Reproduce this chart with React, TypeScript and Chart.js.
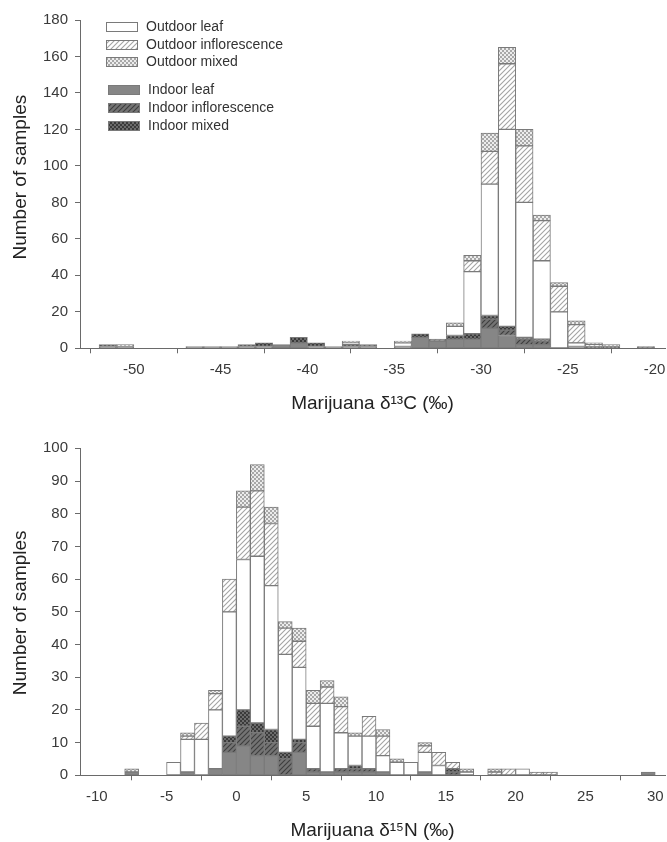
import React, { useEffect, useRef } from 'react';
import { Chart, registerables } from 'chart.js';

Chart.register(...registerables);

const FONT = '"Liberation Sans", Arial, Helvetica, sans-serif';

// ---------- Top panel: Marijuana d13C (bins of 1 permil, left edges) ----------
const c13Bins = [-52, -51, -50, -49, -48, -47, -46, -45, -44, -43, -42, -41, -40, -39, -38, -37, -36, -35, -34, -33, -32, -31, -30, -29, -28, -27, -26, -25, -24, -23, -22, -21];
const c13IndoorLeaf = [1, 1, 0, 0, 0, 1, 1, 1, 1, 1, 2, 3, 1, 1, 1, 1, 0, 1, 6, 4, 5, 5, 11, 7, 2, 2, 0, 1, 0, 0, 0, 0];
const c13IndoorInfl = [0, 0, 0, 0, 0, 0, 0, 0, 0, 0, 0, 0, 0, 0, 0, 1, 0, 0, 0, 1, 0, 0, 5, 3, 3, 2, 0, 0, 0, 0, 0, 1];
const c13IndoorMixed = [1, 0, 0, 0, 0, 0, 0, 0, 1, 2, 0, 3, 2, 0, 1, 0, 0, 0, 2, 0, 2, 3, 2, 2, 1, 1, 0, 0, 1, 1, 0, 0];
const c13OutdoorLeaf = [0, 0, 0, 0, 0, 0, 0, 0, 0, 0, 0, 0, 0, 0, 1, 0, 0, 2, 0, 0, 5, 34, 72, 108, 74, 43, 20, 2, 0, 0, 0, 0];
const c13OutdoorInfl = [0, 0, 0, 0, 0, 0, 0, 0, 0, 0, 0, 0, 0, 0, 0, 0, 0, 0, 0, 0, 0, 6, 18, 36, 31, 22, 14, 10, 1, 0, 0, 0];
const c13OutdoorMixed = [0, 1, 0, 0, 0, 0, 0, 0, 0, 0, 0, 0, 0, 0, 1, 0, 0, 1, 0, 0, 2, 3, 10, 9, 9, 3, 2, 2, 1, 1, 0, 0];
const c13XTicks = [-50, -45, -40, -35, -30, -25, -20];
const c13YTicks = [0, 20, 40, 60, 80, 100, 120, 140, 160, 180];

// ---------- Bottom panel: Marijuana d15N ----------
const n15Bins = [-8, -7, -6, -5, -4, -3, -2, -1, 0, 1, 2, 3, 4, 5, 6, 7, 8, 9, 10, 11, 12, 13, 14, 15, 16, 17, 18, 19, 20, 21, 22, 23, 24, 25, 26, 27, 28, 29];
const n15IndoorLeaf = [1, 0, 0, 0, 1, 0, 2, 7, 9, 6, 6, 0, 7, 1, 1, 1, 1, 1, 1, 0, 0, 1, 0, 0, 0, 0, 0, 0, 0, 0, 0, 0, 0, 0, 0, 0, 0, 1];
const n15IndoorInfl = [0, 0, 0, 0, 0, 0, 0, 3, 6, 7, 4, 5, 3, 1, 0, 1, 1, 1, 0, 0, 0, 0, 0, 1, 0, 0, 0, 0, 0, 0, 0, 0, 0, 0, 0, 0, 0, 0];
const n15IndoorMixed = [0, 0, 0, 0, 0, 0, 0, 2, 5, 3, 4, 2, 1, 0, 0, 0, 1, 0, 0, 0, 0, 0, 0, 1, 0, 0, 0, 0, 0, 0, 0, 0, 0, 0, 0, 0, 0, 0];
const n15OutdoorLeaf = [0, 0, 0, 4, 10, 11, 18, 38, 46, 51, 44, 30, 22, 13, 21, 11, 9, 10, 5, 4, 4, 6, 3, 0, 1, 0, 0, 0, 2, 0, 0, 0, 0, 0, 0, 0, 0, 0];
const n15OutdoorInfl = [0, 0, 0, 0, 1, 5, 5, 10, 16, 20, 19, 8, 8, 7, 5, 8, 0, 6, 6, 0, 0, 2, 4, 2, 0, 0, 1, 2, 0, 1, 1, 0, 0, 0, 0, 0, 0, 0];
const n15OutdoorMixed = [1, 0, 0, 0, 1, 0, 1, 0, 5, 8, 5, 2, 4, 4, 2, 3, 1, 0, 2, 1, 0, 1, 0, 0, 1, 0, 1, 0, 0, 0, 0, 0, 0, 0, 0, 0, 0, 0];
const n15XTicks = [-10, -5, 0, 5, 10, 15, 20, 25, 30];
const n15YTicks = [0, 10, 20, 30, 40, 50, 60, 70, 80, 90, 100];

const seriesLabels = ['Indoor leaf', 'Indoor inflorescence', 'Indoor mixed', 'Outdoor leaf', 'Outdoor inflorescence', 'Outdoor mixed'];
const yAxisTitle = 'Number of samples';

function makePattern(kind: string, bg: string, fg: string): CanvasPattern | string {
  const c = document.createElement('canvas');
  const s = kind === 'hatch' ? 5 : 4;
  c.width = s;
  c.height = s;
  const g = c.getContext('2d');
  if (!g) return bg;
  g.fillStyle = bg;
  g.fillRect(0, 0, s, s);
  if (kind === 'hatch') {
    g.strokeStyle = fg;
    g.lineWidth = 1.1;
    g.beginPath();
    g.moveTo(0, s);
    g.lineTo(s, 0);
    g.moveTo(-1, 1);
    g.lineTo(1, -1);
    g.moveTo(s - 1, s + 1);
    g.lineTo(s + 1, s - 1);
    g.stroke();
  } else {
    g.fillStyle = fg;
    g.fillRect(0, 0, 2, 2);
    g.fillRect(2, 2, 2, 2);
  }
  const p = g.createPattern(c, 'repeat');
  return p || bg;
}

function buildFills() {
  return [
    '#868686',
    makePattern('hatch', '#747474', '#3e3e3e'),
    makePattern('check', '#6c6c6c', '#3a3a3a'),
    '#ffffff',
    makePattern('hatch', '#ffffff', '#a4a4a4'),
    makePattern('check', '#ececec', '#a8a8a8'),
  ];
}

const legendPlugin = {
  id: 'panelLegend',
  afterDraw(chart: any) {
    const opts = chart.options.plugins.panelLegend;
    if (!opts || !opts.display) return;
    const ctx = chart.ctx;
    const { left, top } = chart.chartArea;
    const order = [3, 4, 5, 0, 1, 2];
    const rowY = [7, 25, 42, 70, 88, 106];
    ctx.save();
    ctx.font = '14px ' + FONT;
    ctx.textBaseline = 'middle';
    ctx.textAlign = 'left';
    order.forEach((di, i) => {
      const ds = chart.data.datasets[di];
      const y = top + rowY[i];
      const bx = left + 26 + (i >= 3 ? 2 : 0);
      ctx.fillStyle = ds.backgroundColor;
      ctx.fillRect(bx, y - 5, 32, 10);
      ctx.strokeStyle = '#7a7a7a';
      ctx.lineWidth = 1;
      ctx.strokeRect(bx + 0.5, y - 4.5, 31, 9);
      ctx.fillStyle = '#333333';
      ctx.fillText(ds.label, bx + 40, y + 0.5);
    });
    ctx.restore();
  },
};

// Draws the rotated y-axis title with a vertical shift (the title sits a little above the axis centre)
const yTitlePlugin = {
  id: 'yTitle',
  afterDraw(chart: any) {
    const opts = chart.options.plugins.yTitle;
    if (!opts) return;
    const ctx = chart.ctx;
    const { top, bottom } = chart.chartArea;
    ctx.save();
    ctx.font = '19px ' + FONT;
    ctx.fillStyle = '#222222';
    ctx.textAlign = 'center';
    ctx.textBaseline = 'middle';
    ctx.translate(opts.x, (top + bottom) / 2 + opts.shift);
    ctx.rotate(-Math.PI / 2);
    ctx.fillText(opts.text, 0, 0);
    ctx.restore();
  },
};

type PanelProps = {
  bins: number[];
  series: number[][];
  xMin: number;
  xMax: number;
  xTicks: number[];
  yMax: number;
  yTicks: number[];
  xTitle: string;
  top: number;
  height: number;
  areaTop: number;
  areaBottom: number;
  yTitleShift: number;
  xTitlePad: number;
  showLegend: boolean;
};

function HistPanel(props: PanelProps) {
  const ref = useRef<HTMLCanvasElement>(null);
  useEffect(() => {
    if (!ref.current) return;
    const fills = buildFills();
    const datasets = props.series.map((vals, si) => ({
      label: seriesLabels[si],
      data: props.bins.map((b, i) => ({ x: b + 0.5, y: vals[i] === 0 ? null : vals[i] })),
      backgroundColor: fills[si] as any,
      borderColor: '#7a7a7a',
      borderWidth: 1,
      borderSkipped: false,
      barPercentage: 1,
      categoryPercentage: 1,
    }));
    const chart = new Chart(ref.current, {
      type: 'bar',
      data: { datasets: datasets as any },
      plugins: [legendPlugin as any, yTitlePlugin as any],
      options: {
        animation: false,
        responsive: false,
        maintainAspectRatio: false,
        events: [],
        layout: { padding: { top: props.areaTop, right: 2, bottom: 0, left: 0 } },
        plugins: {
          legend: { display: false },
          tooltip: { enabled: false },
          panelLegend: { display: props.showLegend },
          yTitle: { text: yAxisTitle, x: 20.5, shift: props.yTitleShift },
        } as any,
        scales: {
          x: {
            type: 'linear',
            stacked: true,
            min: props.xMin,
            max: props.xMax,
            offset: false,
            afterBuildTicks: (s: any) => {
              s.ticks = props.xTicks.map((v) => ({ value: v }));
            },
            afterFit: (s: any) => {
              s.height = props.height - props.areaBottom;
              s.paddingLeft = 0;
              s.paddingRight = 0;
            },
            grid: { display: true, drawOnChartArea: false, drawTicks: true, tickLength: 5, color: '#6a6a6a', lineWidth: 1 },
            border: { display: true, color: '#6a6a6a', width: 1 },
            ticks: { color: '#3a3a3a', font: { size: 15, family: FONT }, padding: 8, maxRotation: 0, autoSkip: false },
            title: { display: true, text: props.xTitle, color: '#222222', font: { size: 19, family: FONT }, padding: { top: 0, bottom: props.xTitlePad } },
          },
          y: {
            type: 'linear',
            stacked: true,
            min: 0,
            max: props.yMax,
            afterBuildTicks: (s: any) => {
              s.ticks = props.yTicks.map((v) => ({ value: v }));
            },
            afterFit: (s: any) => {
              s.width = 80;
              s.paddingTop = 0;
              s.paddingBottom = 0;
            },
            grid: { display: true, drawOnChartArea: false, drawTicks: true, tickLength: 5, color: '#6a6a6a', lineWidth: 1 },
            border: { display: true, color: '#6a6a6a', width: 1 },
            ticks: { color: '#3a3a3a', font: { size: 15, family: FONT }, padding: 7 },
            title: { display: false },
          },
        },
      } as any,
    });
    return () => chart.destroy();
  }, []);
  return (
    <canvas
      ref={ref}
      width={667}
      height={props.height}
      style={{ position: 'absolute', left: 0, top: props.top, width: 667, height: props.height, display: 'block' }}
    />
  );
}

export default function App() {
  return (
    <div style={{ position: 'absolute', left: 0, top: 0, width: 667, height: 842, background: '#ffffff', overflow: 'hidden' }}>
      <HistPanel
        bins={c13Bins}
        series={[c13IndoorLeaf, c13IndoorInfl, c13IndoorMixed, c13OutdoorLeaf, c13OutdoorInfl, c13OutdoorMixed]}
        xMin={-53.1}
        xMax={-19.4}
        xTicks={c13XTicks}
        yMax={180}
        yTicks={c13YTicks}
        xTitle="Marijuana δ¹³C (‰)"
        top={0}
        height={420}
        areaTop={20}
        areaBottom={348.3}
        yTitleShift={-7}
        xTitlePad={4.6}
        showLegend={true}
      />
      <HistPanel
        bins={n15Bins}
        series={[n15IndoorLeaf, n15IndoorInfl, n15IndoorMixed, n15OutdoorLeaf, n15OutdoorInfl, n15OutdoorMixed]}
        xMin={-11.2}
        xMax={30.7}
        xTicks={n15XTicks}
        yMax={100}
        yTicks={n15YTicks}
        xTitle="Marijuana δ¹⁵N (‰)"
        top={420}
        height={422}
        areaTop={28.3}
        areaBottom={355.3}
        yTitleShift={1}
        xTitlePad={0}
        showLegend={false}
      />
    </div>
  );
}
